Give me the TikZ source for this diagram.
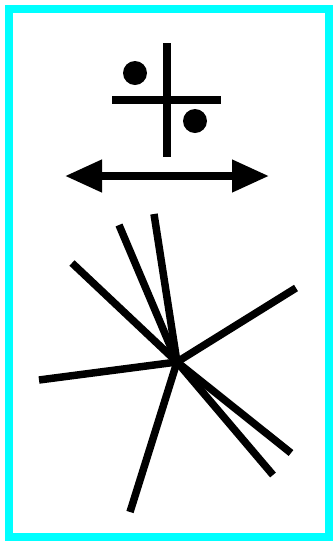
\documentclass[tikz,border=0pt]{standalone}
\usepackage{xcolor}
\usetikzlibrary{arrows.meta}
\definecolor{rim}{RGB}{0,255,255}

\begin{document}
\begin{tikzpicture}[x=1pt,y=-1pt,line width=7.5pt,>={Triangle[length=37pt,width=31pt]}]
  \useasboundingbox (0,0) rectangle (333,542);
  \draw[rim,line width=8pt] (9,9) rectangle (329,537);
  % cross with its two dots
  \draw (167,43) -- (167,157);
  \draw (112,100) -- (221,100);
  \fill (135,73) circle (12);
  \fill (195,121) circle (12);
  \draw[<->] (65,176) -- (269,176);
  % star of rays
  \coordinate (hub) at (177,362);
  \foreach \x/\y in {72/263,119/225,154/214,296/288,39/380,130/512,273/475,291/453} {\draw (hub) -- (\x,\y);}
\end{tikzpicture}
\end{document}
